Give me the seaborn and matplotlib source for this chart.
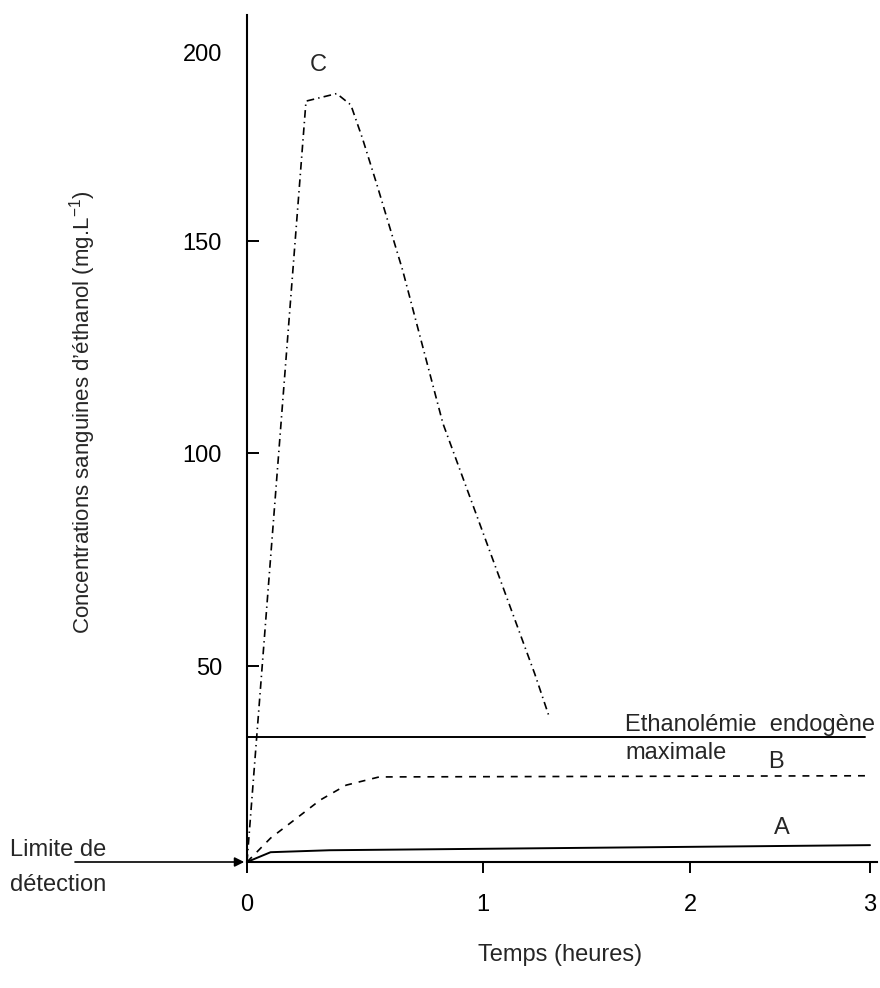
import numpy as np
import pandas as pd
import matplotlib
matplotlib.use("Agg")
import matplotlib.pyplot as plt
import seaborn as sns

# Blood ethanol concentration (mg/L) versus time (hours)
time_c = [0.0, 0.25, 0.38, 0.44, 0.49, 0.55, 0.66, 0.83, 1.25, 1.32]
conc_c = [0.0, 187, 189, 186, 177, 165, 143, 107, 48, 37]

time_b = [0.0, 0.10, 0.20, 0.31, 0.42, 0.56, 3.0]
conc_b = [0.0, 6.1, 10.7, 15.8, 19.6, 21.7, 22.0]

time_a = [0.0, 0.10, 0.35, 3.0]
conc_a = [0.0, 2.5, 3.0, 4.3]

endogenous_max = 32
endogenous_span = [0.0, 2.97]

x_ticks = [0, 1, 2, 3]
y_ticks = [50, 100, 150, 200]

sns.set_theme(style="white")
plt.rcParams["font.family"] = ["Liberation Sans", "DejaVu Sans"]
plt.rcParams["mathtext.fontset"] = "custom"
plt.rcParams["mathtext.rm"] = "Liberation Sans"
plt.rcParams["mathtext.it"] = "Liberation Sans:italic"
plt.rcParams["lines.scale_dashes"] = False

FS = 17

# hand-drawn axes: graduations are not evenly spaced, so use piecewise scales
x_anchor = np.array([-1, 0, 1, 2, 3, 4], dtype=float)
x_px = np.array([-236, 0, 236, 443, 623, 803], dtype=float)
y_anchor = np.array([-50, 0, 50, 100, 150, 200, 250], dtype=float)
y_px = np.array([-196, 0, 196, 409, 621, 810, 999], dtype=float)


def fx(v):
    return np.interp(v, x_anchor, x_px)


def fx_inv(v):
    return np.interp(v, x_px, x_anchor)


def fy(v):
    return np.interp(v, y_anchor, y_px)


def fy_inv(v):
    return np.interp(v, y_px, y_anchor)


W, H = 880, 988
fig = plt.figure(figsize=(W / 100, H / 100), dpi=100)
ax = fig.add_axes([247 / W, (H - 862) / H, (877 - 247) / W, (862 - 15) / H])
ax.set_xscale("function", functions=(fx, fx_inv))
ax.set_yscale("function", functions=(fy, fy_inv))

df_c = pd.DataFrame({"t": time_c, "c": conc_c})
df_b = pd.DataFrame({"t": time_b, "c": conc_b})
df_a = pd.DataFrame({"t": time_a, "c": conc_a})
df_e = pd.DataFrame({"t": endogenous_span, "c": [endogenous_max] * 2})

sns.lineplot(data=df_c, x="t", y="c", ax=ax, color="black", linewidth=1.2,
             linestyle=(0, (5.5, 3.0, 1.0, 3.0)), sort=False, estimator=None)
sns.lineplot(data=df_b, x="t", y="c", ax=ax, color="black", linewidth=1.2,
             linestyle=(0, (5.0, 5.0)), sort=False, estimator=None)
sns.lineplot(data=df_a, x="t", y="c", ax=ax, color="black", linewidth=1.4,
             sort=False, estimator=None)
sns.lineplot(data=df_e, x="t", y="c", ax=ax, color="black", linewidth=1.4,
             sort=False, estimator=None)
for ln in ax.lines:
    ln.set_clip_on(False)

ax.set_xlim(0, fx_inv(630))
ax.set_ylim(0, fy_inv(847))

ax.set_xticks(x_ticks)
ax.set_xticklabels([str(v) for v in x_ticks])
ax.set_yticks(y_ticks)
ax.set_yticklabels([str(v) for v in y_ticks])
ax.tick_params(axis="y", direction="in", length=8.6, width=1.4, pad=18,
               labelsize=FS, colors="black", left=True)
ax.tick_params(axis="x", direction="out", length=8, width=1.4, pad=15,
               labelsize=FS, colors="black", bottom=True)
ax.yaxis.get_major_ticks()[-1].tick1line.set_visible(False)

for side in ["top", "right"]:
    ax.spines[side].set_visible(False)
for side in ["left", "bottom"]:
    ax.spines[side].set_color("black")
    ax.spines[side].set_linewidth(1.5)

ax.set_xlabel("")
ax.set_ylabel("")

# curve labels and annotations
ax.text(0.30, 196.6, "C", fontsize=FS, ha="center", va="center")
ax.text(2.48, 25.5, "B", fontsize=FS, ha="center", va="center")
ax.text(2.51, 8.7, "A", fontsize=FS, ha="center", va="center")
ax.text(1.686, 33.4, "Ethanolémie  endogène", fontsize=FS, ha="left",
        va="baseline")
ax.text(1.686, 26.3, "maximale", fontsize=FS, ha="left", va="baseline")

fig.text(83 / W, 1 - 412 / H, "Concentrations sanguines d\u2019éthanol (mg.L$^{-1}$)",
         rotation=90, ha="center", va="center", fontsize=16)
fig.text(560 / W, 1 - 955 / H, "Temps (heures)", ha="center", va="center",
         fontsize=FS)
fig.text(10 / W, 1 - 850 / H, "Limite de", ha="left", va="center", fontsize=FS)
fig.text(10 / W, 1 - 885 / H, "détection", ha="left", va="center", fontsize=FS)

ax.annotate("", xy=(0, 0), xycoords="data",
            xytext=(75, H - 862), textcoords="figure pixels",
            arrowprops=dict(arrowstyle="-|>", color="black", lw=1.2,
                            mutation_scale=14, shrinkA=0, shrinkB=2))

fig.savefig("out.png", dpi=100)
